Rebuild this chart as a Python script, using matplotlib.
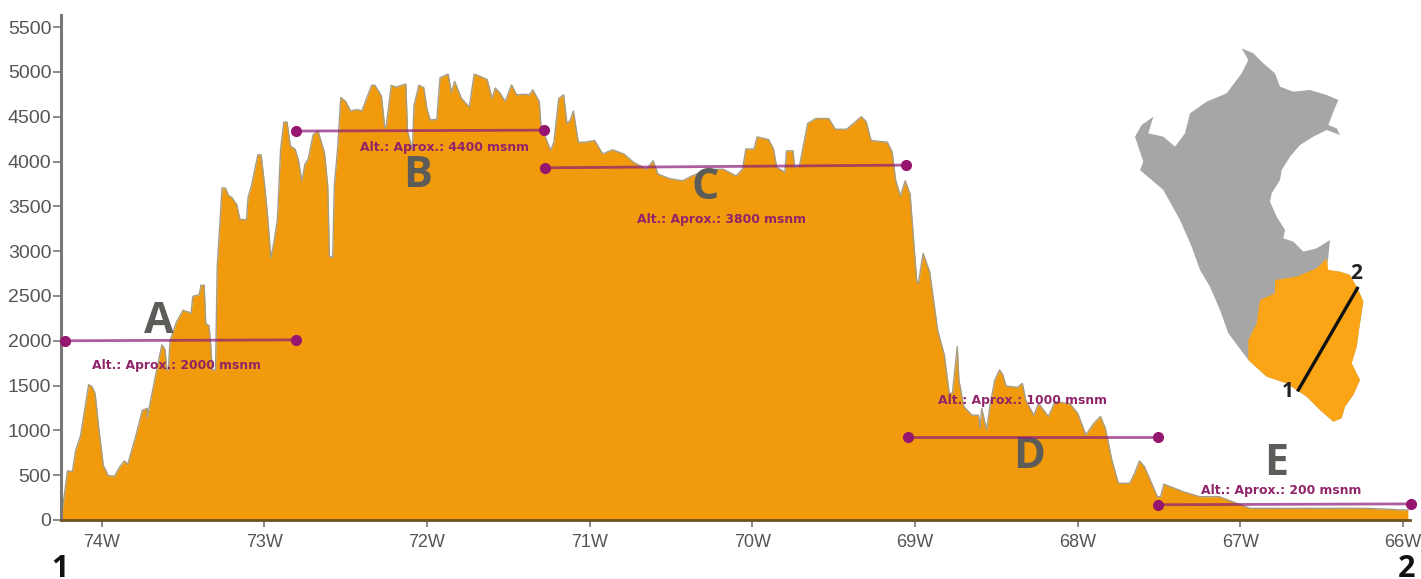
import matplotlib
matplotlib.use('Agg')
import matplotlib.pyplot as plt
import logging
logging.getLogger('matplotlib.font_manager').setLevel(logging.ERROR)

# profile: degrees west, metres
lon = [74.25, 74.21, 74.18, 74.16, 74.13, 74.08, 74.06, 74.04, 74.02, 73.99, 73.96, 73.92, 73.89, 73.86, 73.84,
       73.79, 73.75, 73.72, 73.72, 73.68, 73.65, 73.63, 73.61, 73.60, 73.59, 73.58, 73.54, 73.50, 73.45, 73.44,
       73.40, 73.39, 73.37, 73.36, 73.34, 73.33, 73.32, 73.30, 73.29, 73.26, 73.24, 73.22, 73.20, 73.17, 73.15,
       73.11, 73.10, 73.08, 73.04, 73.02, 73.00, 72.98, 72.96, 72.94, 72.92, 72.90, 72.88, 72.86, 72.84, 72.81,
       72.79, 72.77, 72.75, 72.73, 72.70, 72.67, 72.63, 72.61, 72.60, 72.58, 72.57, 72.55, 72.53, 72.50, 72.47,
       72.43, 72.40, 72.37, 72.34, 72.32, 72.28, 72.26, 72.25, 72.22, 72.19, 72.13, 72.12, 72.09, 72.08, 72.05,
       72.02, 72.00, 71.98, 71.94, 71.92, 71.87, 71.85, 71.83, 71.79, 71.74, 71.71, 71.68, 71.63, 71.60, 71.58,
       71.55, 71.52, 71.48, 71.45, 71.40, 71.37, 71.35, 71.31, 71.30, 71.26, 71.24, 71.22, 71.19, 71.16, 71.14,
       71.12, 71.10, 71.07, 71.03, 70.97, 70.92, 70.86, 70.79, 70.73, 70.65, 70.61, 70.58, 70.51, 70.43, 70.37,
       70.27, 70.18, 70.10, 70.06, 70.04, 69.99, 69.97, 69.90, 69.87, 69.85, 69.80, 69.79, 69.75, 69.74, 69.71,
       69.66, 69.61, 69.53, 69.49, 69.42, 69.33, 69.30, 69.27, 69.17, 69.14, 69.12, 69.09, 69.06, 69.03, 68.99,
       68.98, 68.95, 68.91, 68.86, 68.82, 68.79, 68.77, 68.74, 68.73, 68.70, 68.65, 68.61, 68.60, 68.59, 68.56,
       68.54, 68.51, 68.48, 68.46, 68.44, 68.37, 68.34, 68.32, 68.27, 68.24, 68.18, 68.14, 68.05, 68.00, 67.95,
       67.90, 67.86, 67.83, 67.79, 67.75, 67.68, 67.65, 67.62, 67.59, 67.51, 67.49, 67.47, 67.35, 67.25, 67.13,
       67.02, 66.94, 66.63, 66.22, 65.97]
elev = [0, 550, 540, 775, 940, 1510, 1490, 1410, 1060, 610, 495, 490, 590, 660, 620,
        940, 1225, 1245, 1140, 1510, 1780, 1955, 1900, 1675, 1675, 2000, 2210, 2340, 2310, 2495,
        2515, 2620, 2620, 2190, 2170, 1960, 1675, 1675, 2820, 3705, 3705, 3620, 3600, 3520, 3355,
        3350, 3600, 3725, 4075, 4075, 3765, 3395, 2925, 3110, 3355, 4135, 4440, 4440, 4175, 4135,
        4010, 3785, 3970, 4030, 4300, 4340, 4095, 3725, 2945, 2925, 3725, 4135, 4715, 4670, 4565,
        4580, 4565, 4710, 4850, 4850, 4730, 4380, 4400, 4850, 4830, 4865, 4340, 4135, 4625, 4850,
        4825, 4585, 4465, 4470, 4935, 4975, 4770, 4895, 4710, 4605, 4975, 4955, 4915, 4705, 4820,
        4760, 4670, 4855, 4745, 4750, 4745, 4800, 4670, 4405, 4215, 4125, 4215, 4705, 4745, 4425,
        4460, 4565, 4215, 4215, 4235, 4085, 4130, 4085, 3990, 3915, 4010, 3860, 3810, 3785, 3840,
        3910, 3915, 3840, 3915, 4140, 4140, 4275, 4245, 4140, 3935, 3880, 4120, 4120, 3935, 3955,
        4425, 4480, 4480, 4360, 4360, 4500, 4445, 4235, 4215, 4105, 3800, 3615, 3785, 3635, 2675,
        2635, 2975, 2770, 2110, 1845, 1415, 1415, 1935, 1560, 1265, 1170, 1170, 1025, 1245, 1005,
        1265, 1560, 1675, 1620, 1495, 1480, 1525, 1340, 1170, 1300, 1155, 1320, 1300, 1190, 950,
        1080, 1155, 1025, 670, 410, 410, 520, 660, 595, 260, 260, 400, 315, 260, 260,
        185, 130, 130, 130, 110]

y_ticks = [0, 500, 1000, 1500, 2000, 2500, 3000, 3500, 4000, 4500, 5000, 5500]
x_ticks = [74, 73, 72, 71, 70, 69, 68, 67, 66]
x_labels = ['74W', '73W', '72W', '71W', '70W', '69W', '68W', '67W', '66W']

# zone bars: lon start, lon end, elev start, elev end
zone_lon0 = [74.228, 72.806, 71.274, 69.04, 67.508]
zone_lon1 = [72.806, 71.28, 69.058, 67.508, 65.95]
zone_y0 = [2000, 4340, 3930, 930, 170]
zone_y1 = [2010, 4350, 3960, 930, 180]

zone_names = ['A', 'B', 'C', 'D', 'E']
name_lon = [73.65, 72.06, 70.29, 68.30, 66.78]
name_y = [2210, 3840, 3715, 705, 635]

alt_text = ['Alt.: Aprox.: 2000 msnm', 'Alt.: Aprox.: 4400 msnm', 'Alt.: Aprox.: 3800 msnm',
            'Alt.: Aprox.: 1000 msnm', 'Alt.: Aprox.: 200 msnm']
alt_lon = [73.54, 71.89, 70.19, 68.34, 66.75]
alt_y = [1720, 4160, 3350, 1330, 325]

# map outlines, in map units
peru_x = [365, 400, 430, 465, 480, 520, 570, 620, 655, 640, 625, 650, 660, 620, 580, 540, 510, 485, 480, 455, 450,
          470, 495, 490, 520, 550, 590, 630, 625, 620, 660, 690, 715, 730, 720, 710, 695, 720, 700, 675, 665, 640,
          600, 560, 500, 440, 385, 370, 325, 300, 270, 240, 215, 180, 130, 60, 70, 45, 65, 100, 85, 130, 165, 195,
          210, 260, 320, 365, 385]
peru_y = [55, 70, 100, 130, 170, 185, 180, 195, 210, 245, 285, 295, 315, 300, 320, 345, 380, 420, 450, 490, 515,
          560, 600, 625, 635, 665, 655, 630, 680, 720, 725, 735, 780, 815, 880, 950, 1000, 1050, 1095, 1130, 1165, 1175,
          1140, 1100, 1060, 1040, 990, 970, 910, 840, 770, 720, 650, 570, 480, 420, 395, 320, 285, 260, 310, 320, 350, 310,
          250, 215, 190, 130, 90]
south_x = [620, 625, 660, 690, 715, 730, 720, 710, 695, 720, 700, 675, 665, 640, 600, 560, 500, 440, 385, 385, 410,
           420, 465, 465, 530, 590]
south_y = [685, 720, 725, 735, 780, 815, 880, 950, 1000, 1050, 1095, 1130, 1165, 1175, 1140, 1100, 1060, 1040, 990,
           930, 880, 810, 790, 750, 740, 715]
cut_x = [712, 535]
cut_y = [775, 1080]

W, H = 1421, 579
fig = plt.figure(figsize=(W / 100, H / 100), dpi=100)
ax = fig.add_axes([61 / W, (H - 520) / H, (1410 - 61) / W, (520 - 15) / H])

ax.fill_between(lon, elev, 0, color='#f09a0c', linewidth=0)
ax.plot(lon, elev, color='#a59c84', lw=1)

for i in range(5):
    ax.plot([zone_lon0[i], zone_lon1[i]], [zone_y0[i], zone_y1[i]], color='#8a1a78', lw=2, alpha=0.7, zorder=4,
            solid_capstyle='butt')
    ax.plot([zone_lon0[i], zone_lon1[i]], [zone_y0[i], zone_y1[i]], 'o', color='#96156e', ms=7, zorder=5,
            clip_on=False)
    ax.text(name_lon[i], name_y[i], zone_names[i], color='#5c5c58', fontsize=31, fontweight='bold',
            family=['Liberation Sans Narrow', 'Open Sans'], ha='center', va='center', zorder=3)
    ax.text(alt_lon[i], alt_y[i], alt_text[i], color='#8f2468', fontsize=8.9, fontweight='bold',
            family='DejaVu Sans', ha='center', va='center', zorder=6)

ax.set_xlim(74.25, 65.957)
ax.set_ylim(0, 5635)
ax.set_xticks(x_ticks)
ax.set_xticklabels(x_labels, family='Liberation Sans', fontsize=13, color='#555555')
ax.set_yticks(y_ticks)
ax.set_yticklabels([str(v) for v in y_ticks], family='Liberation Sans', fontsize=14, color='#555555')
ax.tick_params(axis='x', length=5, width=1.2, color='#777777', pad=5)
ax.tick_params(axis='y', length=6, width=1.2, color='#777777', pad=1)
ax.spines['top'].set_visible(False)
ax.spines['right'].set_visible(False)
ax.spines['left'].set_color('#777777')
ax.spines['left'].set_linewidth(2.2)
ax.spines['bottom'].set_color('#6e5220')
ax.spines['bottom'].set_linewidth(2)

fig.text(60 / W, 2 / H, '1', fontsize=22, fontweight='bold', family='Open Sans', color='#111111',
         ha='center', va='baseline')
fig.text(1407 / W, 2 / H, '2', fontsize=22, fontweight='bold', family='Open Sans', color='#111111',
         ha='center', va='baseline')

# map in the upper right corner
mp = fig.add_axes([1120 / W, (H - 440) / H, 280 / W, 410 / H])
mp.set_xlim(0, 840)
mp.set_ylim(1230, 0)
mp.axis('off')
mp.fill(peru_x, peru_y, color='#a6a6a6', linewidth=0)
mp.fill(south_x, south_y, color='#fba516', linewidth=0)
mp.plot(cut_x, cut_y, color='#111111', lw=2.4)
mp.text(503, 1085, '1', fontsize=15, fontweight='bold', family='Open Sans', color='#222222', ha='center', va='center')
mp.text(708, 730, '2', fontsize=15, fontweight='bold', family='Open Sans', color='#222222', ha='center', va='center')

fig.savefig('out.png', dpi=100)
